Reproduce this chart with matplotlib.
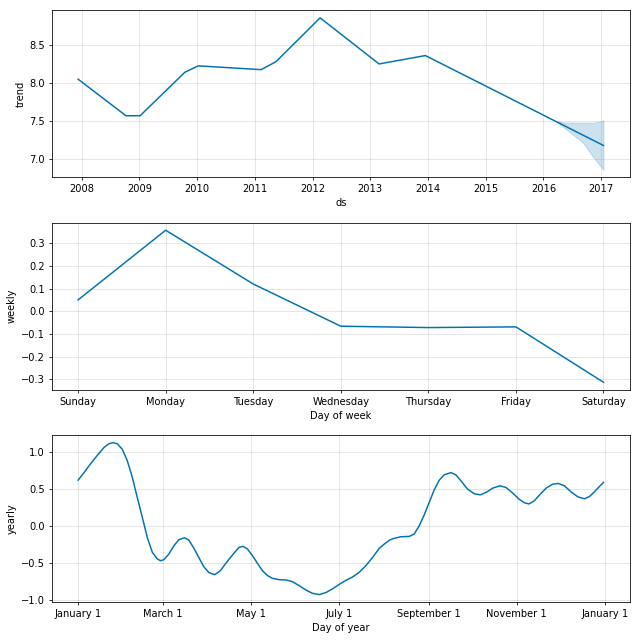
import matplotlib
matplotlib.use("Agg")
import matplotlib.pyplot as plt
import matplotlib.dates as mdates
from matplotlib.ticker import FuncFormatter
import numpy as np
import pandas as pd

# trend (piecewise linear)
trend_dates = ['2007-12-10', '2008-10-08', '2009-01-05', '2009-10-15', '2010-01-08',
               '2011-02-10', '2011-05-15', '2012-02-18', '2013-02-25', '2013-12-15',
               '2017-01-15']
trend_vals = [8.05, 7.57, 7.57, 8.14, 8.225, 8.175, 8.28, 8.855, 8.25, 8.36, 7.18]

# uncertainty band of the trend forecast
band_dates = ['2016-03-20', '2016-05-20', '2016-09-10', '2016-11-10', '2016-12-15', '2017-01-15']
band_upper = [7.50, 7.48, 7.48, 7.48, 7.49, 7.51]
band_lower = [7.50, 7.40, 7.21, 7.03, 6.94, 6.86]

# weekly seasonality
days = ['Sunday', 'Monday', 'Tuesday', 'Wednesday', 'Thursday', 'Friday', 'Saturday']
weekly = [0.05, 0.357, 0.12, -0.066, -0.072, -0.069, -0.313]

# yearly seasonality: day of year and value
year_days = [0, 4.1, 8.8, 13.4, 18, 21.4, 24.2, 27.2, 30.6, 34.1, 37.6, 41, 44.5, 47.9,
             51.4, 54.8, 57.1, 59.4, 62.9, 66.4, 69.8, 73.7, 76.7, 80.2, 83.6, 87.1,
             90.6, 94.7, 98.6, 102, 104.6, 108.1, 111.5, 114.3, 117.3, 120.8, 124.3,
             127.7, 131.2, 134.7, 139.3, 143.9, 148.6, 153.2, 157.8, 162.4, 167.1,
             171.7, 176.3, 180.9, 185.6, 190.2, 194.8, 199.4, 204.1, 208.7, 212.5,
             216, 219, 223.7, 229.4, 232.9, 236.4, 239.9, 243.3, 246.8, 250.3, 253.7,
             258.4, 261.8, 265.3, 269.9, 274.6, 278.7, 282.7, 287.3, 292.3, 296.5,
             301.2, 305.8, 309.3, 312.5, 316.2, 319.7, 324.3, 328.9, 332.8, 337,
             341.6, 346.3, 350.9, 354.4, 357.8, 361.3, 364.1]
yearly = [0.618, 0.72, 0.843, 0.955, 1.06, 1.11, 1.125, 1.108, 1.036, 0.88, 0.654, 0.384,
          0.115, -0.153, -0.355, -0.445, -0.47, -0.456, -0.38, -0.267, -0.187, -0.16,
          -0.19, -0.30, -0.425, -0.55, -0.63, -0.658, -0.604, -0.515, -0.45, -0.366,
          -0.29, -0.276, -0.31, -0.40, -0.506, -0.604, -0.67, -0.708, -0.726, -0.73,
          -0.753, -0.807, -0.865, -0.91, -0.928, -0.90, -0.85, -0.79, -0.735, -0.69,
          -0.627, -0.537, -0.425, -0.303, -0.24, -0.19, -0.168, -0.146, -0.142, -0.11,
          0.002, 0.15, 0.317, 0.488, 0.618, 0.69, 0.72, 0.69, 0.61, 0.497, 0.434, 0.42,
          0.452, 0.51, 0.542, 0.52, 0.443, 0.358, 0.312, 0.297, 0.34, 0.416, 0.51,
          0.564, 0.573, 0.542, 0.46, 0.393, 0.366, 0.398, 0.46, 0.533, 0.587]

blue = '#0072B2'

fig, axes = plt.subplots(3, 1, figsize=(9, 9), dpi=640 / 9)
fig.subplots_adjust(left=0.081, right=0.984, top=0.984, bottom=0.059, hspace=0.27)

# trend
ax = axes[0]
ax.plot(pd.to_datetime(trend_dates), trend_vals, ls='-', c=blue)
ax.fill_between(pd.to_datetime(band_dates), band_lower, band_upper, color=blue, alpha=0.2)
ax.xaxis.set_major_locator(mdates.YearLocator())
ax.xaxis.set_major_formatter(mdates.DateFormatter('%Y'))
ax.grid(True, which='major', c='gray', ls='-', lw=1, alpha=0.2)
ax.set_xlabel('ds')
ax.set_ylabel('trend')

# weekly
ax = axes[1]
ax.plot(range(len(days)), weekly, ls='-', c=blue)
ax.set_xticks(range(len(days)))
ax.set_xticklabels(days)
ax.grid(True, which='major', c='gray', ls='-', lw=1, alpha=0.2)
ax.set_xlabel('Day of week')
ax.set_ylabel('weekly')

# yearly
ax = axes[2]
ydates = pd.Timestamp('2017-01-01') + pd.to_timedelta(np.array(year_days) * 24, unit='h')
ax.plot(ydates, yearly, ls='-', c=blue)
ax.xaxis.set_major_locator(mdates.MonthLocator(bymonth=range(1, 13, 2), bymonthday=1))
ax.xaxis.set_major_formatter(FuncFormatter(
    lambda x, pos=None: '{dt:%B} {dt.day}'.format(dt=mdates.num2date(x))))
ax.grid(True, which='major', c='gray', ls='-', lw=1, alpha=0.2)
ax.set_xlabel('Day of year')
ax.set_ylabel('yearly')

fig.savefig('out.png', dpi=640 / 9)
